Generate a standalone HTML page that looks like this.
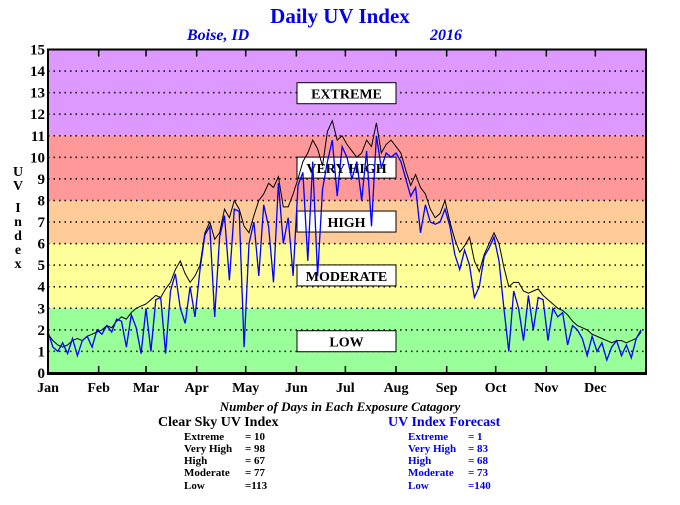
<!DOCTYPE html>
<html><head><meta charset="utf-8"><style>
body{margin:0;background:#fff;font-family:"Liberation Serif",serif;}
svg text{font-family:"Liberation Serif",serif;font-weight:bold;}
</style></head><body>
<svg width="680" height="500" viewBox="0 0 680 500">
<text x="340" y="23" font-size="21" fill="#0000ee" text-anchor="middle">Daily UV Index</text>
<text x="187" y="40" font-size="16" fill="#0000ee" font-style="italic">Boise, ID</text>
<text x="430" y="40" font-size="16" fill="#0000ee" font-style="italic">2016</text>
<g id="bands"></g><g id="grid"></g><g id="labels"></g><g id="series"></g>
<rect x="48" y="49.5" width="598" height="323.5" fill="none" stroke="#000" stroke-width="2"/>
<line x1="47" y1="373.5" x2="647" y2="373.5" stroke="#000" stroke-width="3"/>
<g id="axes"></g>
<g font-size="14" fill="#000" text-anchor="middle">
<text x="18" y="176">U</text><text x="18" y="190">V</text><text x="18" y="212">I</text><text x="18" y="226">n</text><text x="18" y="240">d</text><text x="18" y="254">e</text><text x="18" y="268">x</text></g>
<text x="340" y="411" font-size="13" font-style="italic" text-anchor="middle">Number of Days in Each Exposure Catagory</text>
<g fill="#000">
<text x="158" y="426" font-size="14">Clear Sky UV Index</text>
<g font-size="11"><text x="184" y="440">Extreme</text><text x="245" y="440">=  10</text>
<text x="184" y="452">Very High</text><text x="245" y="452">=  98</text>
<text x="184" y="464">High</text><text x="245" y="464">=  67</text>
<text x="184" y="476">Moderate</text><text x="245" y="476">=  77</text>
<text x="184" y="489">Low</text><text x="245" y="489">=113</text></g></g>
<g fill="#0000ee">
<text x="388" y="426" font-size="14">UV Index Forecast</text>
<g font-size="11"><text x="408" y="440">Extreme</text><text x="468" y="440">=    1</text>
<text x="408" y="452">Very High</text><text x="468" y="452">=  83</text>
<text x="408" y="464">High</text><text x="468" y="464">=  68</text>
<text x="408" y="476">Moderate</text><text x="468" y="476">=  73</text>
<text x="408" y="489">Low</text><text x="468" y="489">=140</text></g></g>
</svg>
<script>
const yTicks=[0,1,2,3,4,5,6,7,8,9,10,11,12,13,14,15];
const months=["Jan","Feb","Mar","Apr","May","Jun","Jul","Aug","Sep","Oct","Nov","Dec"];
const monthStart=[0,31,60,91,121,152,182,213,244,274,305,335];
const bandLo=[0,3,6,8,11];
const bandHi=[3,6,8,11,15];
const bandNames=["LOW","MODERATE","HIGH","VERY HIGH","EXTREME"];
const bandColors=["#99ff99","#ffff99","#ffcc99","#ff9999","#dd99ff"];
const labelLevel=[1.45,4.5,7,9.5,12.95];
const stepDays=3;
const clearSky=[1.8,1.5,1.3,1.2,1.3,1.5,1.6,1.5,1.7,1.8,1.9,
2.0,2.2,2.1,2.4,2.6,2.5,2.8,3.0,3.1,
3.2,3.4,3.6,3.5,3.9,4.2,4.8,5.2,4.6,4.2,4.5,
5.0,6.5,7.0,6.2,6.5,7.6,7.2,8.0,7.6,6.8,
6.5,7.3,8.0,8.3,8.8,8.6,9.1,7.7,7.7,8.3,
9.0,9.8,10.2,10.8,10.4,9.6,11.2,11.7,10.8,11.0,
10.6,10.3,10.0,10.2,10.8,10.5,11.6,10.2,10.6,10.8,
10.5,10.2,9.4,8.7,9.2,8.6,8.3,7.6,7.2,7.4,
8.0,7.0,6.2,5.6,5.9,6.3,5.2,4.7,5.5,6.0,
6.5,6.0,4.9,4.0,4.2,4.2,3.8,3.7,3.8,3.9,
3.6,3.4,3.2,3.0,2.9,2.7,2.4,2.2,2.1,2.0,
1.8,1.7,1.6,1.5,1.4,1.5,1.5,1.4,1.5,1.6,1.9];
const forecast=[1.9,1.2,1.0,1.4,0.9,1.6,0.8,1.5,1.7,1.2,2.0,
1.8,2.2,1.9,2.5,2.4,1.2,2.7,2.1,0.9,
3.0,1.0,3.4,3.5,0.9,3.8,4.6,3.0,2.3,4.0,2.6,
4.8,6.4,6.8,2.6,6.3,7.3,4.3,7.6,7.5,1.2,
6.0,7.0,4.5,7.8,6.8,4.2,8.8,6.0,7.2,4.5,
8.7,9.3,5.2,9.8,4.5,8.5,9.8,10.8,8.2,10.5,
10.0,9.0,9.8,8.0,10.3,6.8,11.0,9.5,10.2,10.0,
10.2,9.8,9.0,8.2,8.6,6.5,7.8,7.0,6.9,7.0,
7.6,6.8,5.5,4.8,5.7,5.0,3.5,4.0,5.4,5.8,
6.3,5.2,3.0,1.0,3.8,3.0,1.5,3.6,2.0,3.5,
3.4,1.5,3.0,2.6,2.8,1.3,2.2,2.0,1.6,0.8,
1.7,1.0,1.4,0.6,1.2,1.5,0.8,1.3,0.7,1.6,2.0];
const NS="http://www.w3.org/2000/svg";
const X0=48,X1=646,Y0=373,Y1=49.5;
const xS=d=>X0+d*(X1-X0)/366;
const yS=v=>Y0-v*(Y0-Y1)/15;
function mk(t,a,p){const e=document.createElementNS(NS,t);for(const k in a)e.setAttribute(k,a[k]);p.appendChild(e);return e;}
const bands=document.getElementById('bands');
bandLo.forEach((lo,i)=>{const r=mk('rect',{x:X0,y:yS(bandHi[i]),width:X1-X0,height:yS(lo)-yS(bandHi[i]),fill:bandColors[i]},bands);

});
const grid=document.getElementById('grid'),axes=document.getElementById('axes');
yTicks.forEach(v=>{
 if(v>0&&v<15){const l=mk('line',{x1:X0,x2:X1,y1:yS(v),y2:yS(v),stroke:'#000','stroke-width':1.5,'stroke-dasharray':'1.5 4'},grid);
 
 }
 const t=mk('text',{x:45,y:yS(v)+5,'font-size':15,'text-anchor':'end'},axes);t.textContent=v;
 
 
});
months.forEach((m,i)=>{const x=xS(monthStart[i]);
 if(i>0){mk('line',{x1:x,x2:x,y1:Y1,y2:Y1+7,stroke:'#000','stroke-width':1.5},axes);mk('line',{x1:x,x2:x,y1:Y0,y2:Y0-7,stroke:'#000','stroke-width':1.5},axes);}
 const t=mk('text',{x:x,y:392,'font-size':14,'text-anchor':'middle'},axes);t.textContent=m;
 
 
});
const labels=document.getElementById('labels');
bandNames.forEach((n,i)=>{const y=yS(labelLevel[i]);
 const g=mk('g',{},labels);
 
 
 mk('rect',{x:297,y:y-11,width:99,height:21,fill:'#fff',stroke:'#000','stroke-width':1},g);
 const t=mk('text',{x:346.5,y:y+5,'font-size':14,'text-anchor':'middle'},g);t.textContent=n;});
const ser=document.getElementById('series');
function line(arr,col,name,w){const p=arr.map((v,i)=>xS(i*stepDays).toFixed(1)+','+yS(v).toFixed(1)).join(' ');
 const e=mk('polyline',{points:p,fill:'none',stroke:col,'stroke-width':w},ser);
 
 }
line(clearSky,'#000','clear-sky-line',1);
line(forecast,'#0000ff','forecast-line',1.3);
</script>
</body></html>
